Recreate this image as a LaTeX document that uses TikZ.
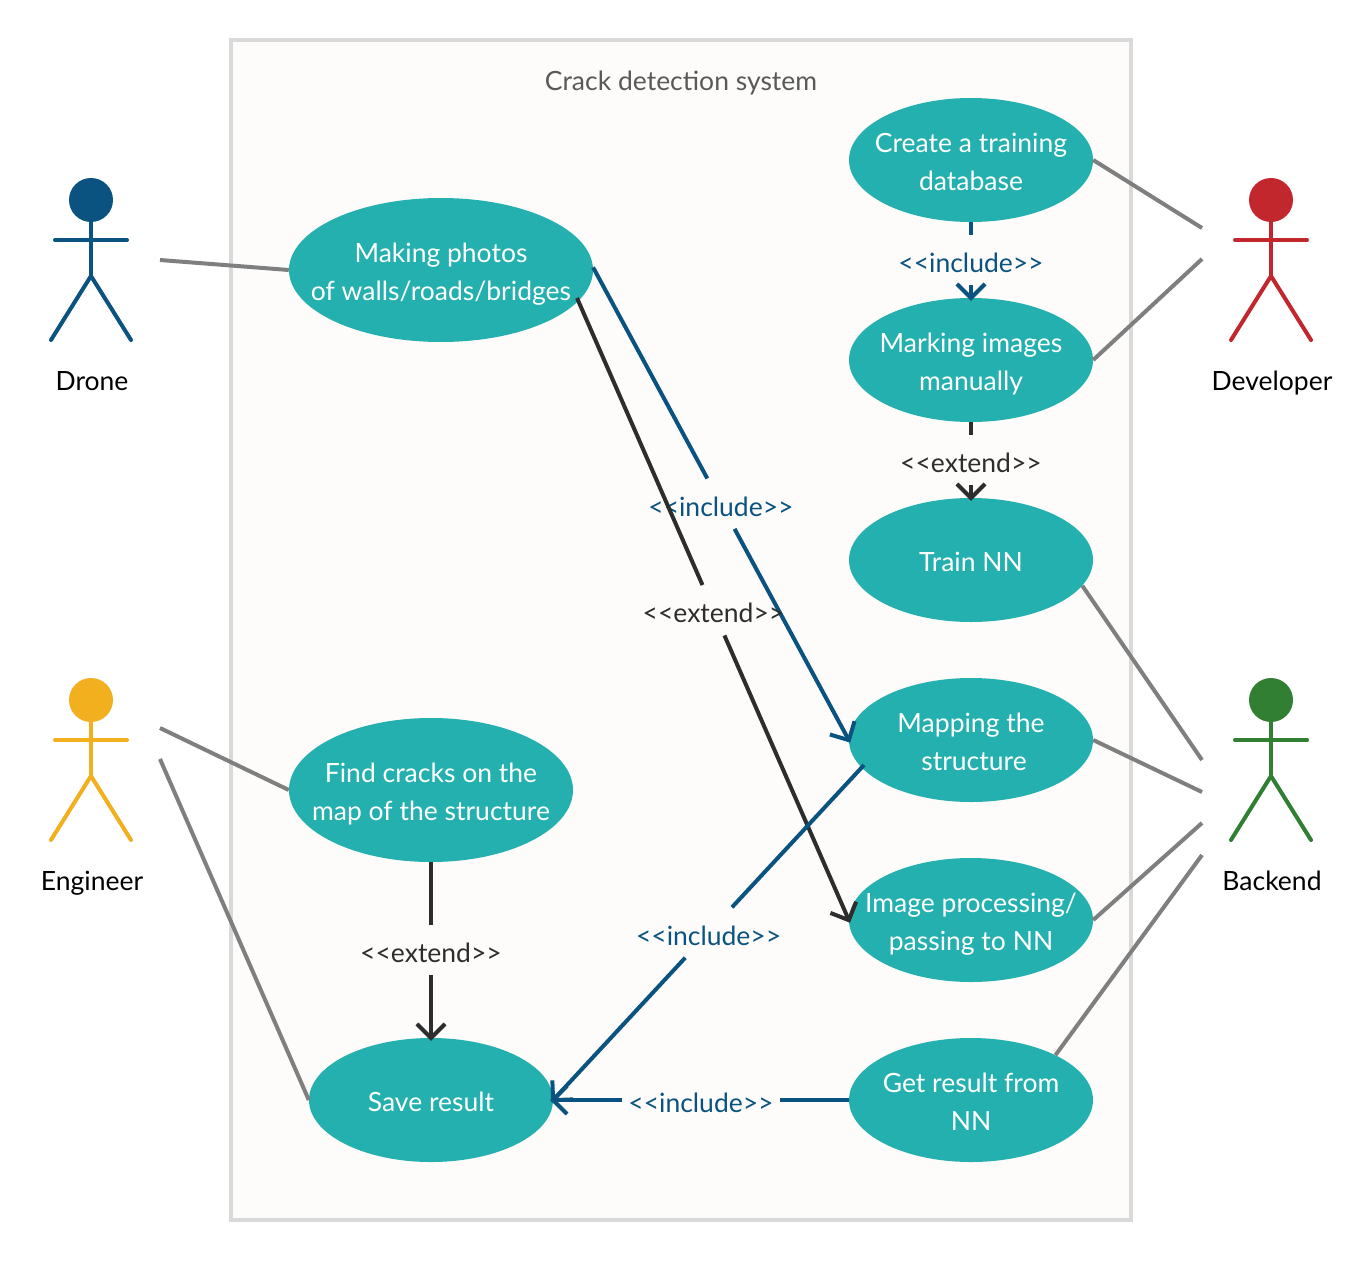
\documentclass[tikz,border=0pt]{standalone}
\usepackage{fontspec}
\setmainfont{Lato}
\usetikzlibrary{shapes.geometric,arrows.meta}
\definecolor{teal1}{HTML}{24B0AF}
\definecolor{blueL}{HTML}{0A5380}
\definecolor{darkL}{HTML}{2D2D2D}
\definecolor{greyL}{HTML}{7F7F7F}
\definecolor{boxS}{HTML}{D9D9D9}
\definecolor{boxF}{HTML}{FDFCFB}
\definecolor{redA}{HTML}{C1272D}
\definecolor{yelA}{HTML}{F2B01E}
\definecolor{greenA}{HTML}{317F33}
\newcommand{\uctext}[1]{\makebox[0pt]{\raisebox{-10.6pt}[0pt][0pt]{\begin{tabular}{@{}c@{}}#1\end{tabular}}}}
\newcommand{\rellabel}[1]{\raisebox{-12.5pt}[0pt][0pt]{#1}}
\newcommand{\actorfig}[5]{%
  \node[circle,fill=#4,minimum size=44pt,inner sep=0pt] (#1h) at (#2,#3) {};
  \coordinate (#1w) at (#2-36,#3+40);
  \coordinate (#1e) at (#2+36,#3+40);
  \coordinate (#1c) at (#2,#3+76);
  \coordinate (#1l) at (#2-40,#3+140);
  \coordinate (#1r) at (#2+40,#3+140);
  \draw[actorline,#4] (#1h.south) -- (#1c);
  \draw[actorline,#4] (#1w) -- (#1e);
  \draw[actorline,#4] (#1l) -- (#1c) -- (#1r);
  \node[actorlabel,anchor=base] (#1t) at (#2+1,#3+190) {#5};
}
\tikzset{
  uc/.style={ellipse,fill=teal1,text=white,inner sep=0pt,minimum width=244pt,minimum height=124pt,font=\fontsize{26.5}{38}\selectfont},
  ucbig/.style={uc,minimum width=304pt,minimum height=144pt},
  ucfind/.style={uc,minimum width=284pt,minimum height=144pt},
  actorline/.style={line width=4pt,line cap=round,line join=round},
  actorlabel/.style={font=\fontsize{26.5}{32}\selectfont,text=black},
  assoc/.style={line width=4pt,greyL},
  rel/.style={line width=4pt},
  tip/.style={-{Straight Barb[length=14pt,width=28pt,line width=4pt]},shorten >=-3pt},
  lab/.style={rectangle,minimum width=158pt,minimum height=50pt,inner sep=0pt,font=\fontsize{26.5}{30}\selectfont},
}
\begin{document}
\begin{tikzpicture}[x=1pt,y=-1pt]
\useasboundingbox (0,0) rectangle (1372,1260);
\fill[white] (0,0) rectangle (1372,1260);
\node[rectangle,draw=boxS,fill=boxF,line width=4pt,minimum width=900pt,minimum height=1180pt,inner sep=0pt] (sys) at (681,630) {};
\node[font=\fontsize{26.5}{32}\selectfont,text=black!65,anchor=base] (title) at (681,91) {Crack detection system};

\node[ucbig] (photos) at (441,270) {\uctext{Making photos\\of walls/roads/bridges}};
\node[ucfind] (find) at (431,790) {\uctext{Find cracks on the\\map of the structure}};
\node[uc] (save) at (431,1100) {\uctext{Save result}};
\node[uc] (create) at (971,160) {\uctext{Create a training\\database}};
\node[uc] (marking) at (971,360) {\uctext{Marking images\\manually}};
\node[uc] (train) at (971,560) {\uctext{Train NN}};
\node[uc] (mapping) at (971,740) {\uctext{Mapping the\\\hspace{6pt}structure}};
\node[uc] (image) at (971,920) {\uctext{Image processing/\\passing to NN}};
\node[uc] (getres) at (971,1100) {\uctext{Get result from\\NN}};

\actorfig{drone}{91}{200}{blueL}{Drone}
\actorfig{eng}{91}{700}{yelA}{Engineer}
\actorfig{dev}{1271}{200}{redA}{Developer}
\actorfig{back}{1271}{700}{greenA}{Backend}

\coordinate (d1) at (160,260);
\coordinate (e1) at (160,728);
\coordinate (e2) at (160,759);
\coordinate (v1) at (1202,228);
\coordinate (v2) at (1202,259);
\coordinate (b1) at (1202,760);
\coordinate (b2) at (1202,792);
\coordinate (b3) at (1202,823);
\coordinate (b4) at (1202,855);
\coordinate (pstart) at (577,298);
\coordinate (mstart) at (864,765);
\draw[assoc] (d1) -- (photos.west);
\draw[assoc] (e1) -- (find.west);
\draw[assoc] (e2) -- (save.west);
\draw[assoc] (create.east) -- (v1);
\draw[assoc] (marking.east) -- (v2);
\draw[assoc] (train.-13.4) -- (b1);
\draw[assoc] (mapping.east) -- (b2);
\draw[assoc] (image.east) -- (b3);
\draw[assoc] (getres.28) -- (b4);

\path (create.south) -- node[lab,text=blueL] (l1) {\rellabel{<{}<include>{}>}} (marking.north);
\draw[rel,blueL] (create.south) -- (l1);
\draw[rel,blueL,tip] (l1) -- (marking.north);

\path (marking.south) -- node[lab,text=darkL] (l2) {\rellabel{<{}<extend>{}>}} (train.north);
\draw[rel,darkL] (marking.south) -- (l2);
\draw[rel,darkL,tip] (l2) -- (train.north);

\path (photos.1) -- node[lab,text=blueL] (l3) {\rellabel{<{}<include>{}>}} (mapping.west);
\draw[rel,blueL] (photos.1) -- (l3);
\draw[rel,blueL,tip] (l3) -- (mapping.west);

\path (pstart) -- node[lab,text=darkL,pos=.502] (l4) {\rellabel{<{}<extend>{}>}} (image.west);
\draw[rel,darkL] (pstart) -- (l4);
\draw[rel,darkL,tip] (l4) -- (image.west);

\path (find.south) -- node[lab,text=darkL] (l5) {\rellabel{<{}<extend>{}>}} (save.north);
\draw[rel,darkL] (find.south) -- (l5);
\draw[rel,darkL,tip] (l5) -- (save.north);

\path (mstart) -- node[lab,text=blueL] (l6) {\rellabel{<{}<include>{}>}} (save.east);
\draw[rel,blueL] (mstart) -- (l6);
\draw[rel,blueL,tip] (l6) -- (save.east);

\path (getres.west) -- node[lab,text=blueL] (l7) {\rellabel{<{}<include>{}>}} (save.east);
\draw[rel,blueL] (getres.west) -- (l7);
\draw[rel,blueL,tip] (l7) -- (save.east);
\end{tikzpicture}
\end{document}
